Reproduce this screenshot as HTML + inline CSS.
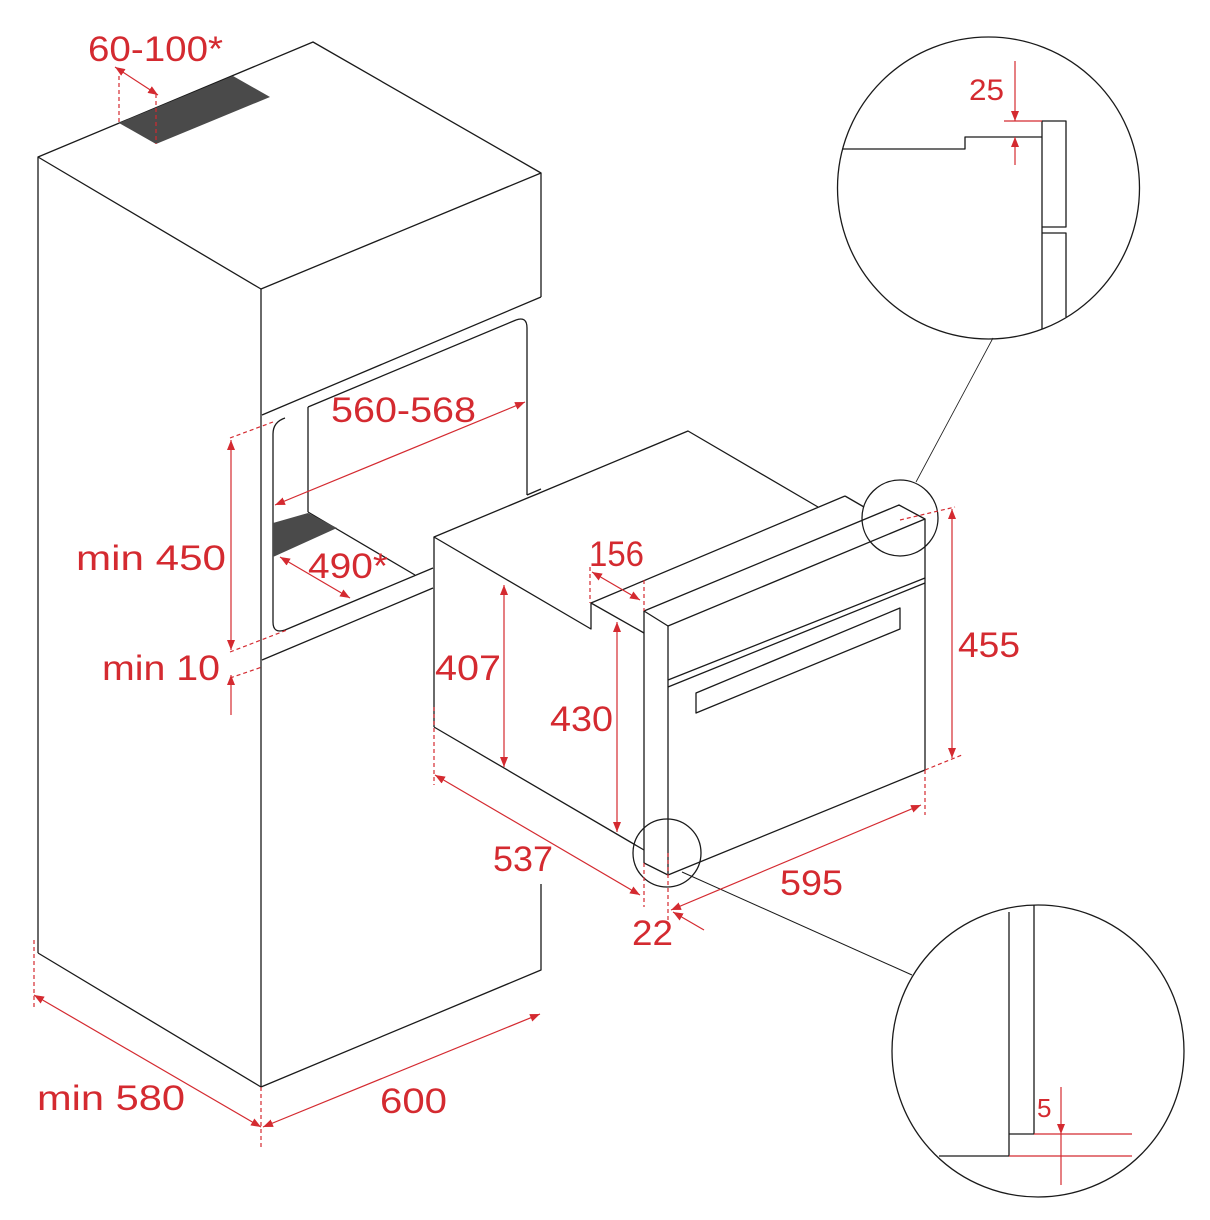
<!DOCTYPE html>
<html><head><meta charset="utf-8"><style>
html,body{margin:0;padding:0;background:#fff}
svg{display:block}
text{font-family:"Liberation Sans",sans-serif;fill:#d42a30}
</style></head><body>
<svg width="1210" height="1220" viewBox="0 0 1210 1220" xmlns="http://www.w3.org/2000/svg">
<defs>
<marker id="a" viewBox="0 0 10 10" refX="10" refY="5" markerWidth="10" markerHeight="10" markerUnits="userSpaceOnUse" orient="auto-start-reverse"><path d="M0,1 L10,5 L0,9 z" fill="#d42a30"/></marker>
</defs>
<g fill="none" stroke="#1a1a1a" stroke-width="1.3" stroke-linejoin="round">
<!-- cabinet -->
<polyline points="38,953 38,157 313,42 541,173 541,297"/>
<line x1="38" y1="157" x2="261" y2="289"/>
<line x1="261" y1="289" x2="541" y2="173"/>
<line x1="261" y1="289" x2="261" y2="1087"/>
<polyline points="38,953 261,1087 541,970 541,884"/>
<line x1="262" y1="415" x2="541" y2="297"/>
<line x1="308" y1="407" x2="516" y2="320"/>
<path d="M516,320 Q527,316 527,328 L527,495"/>
<line x1="308" y1="407" x2="308" y2="512"/>
<path d="M285,418 Q273,422 273,434 L273,622 Q273,634 285,630 L433,568"/>
<line x1="308" y1="512" x2="415" y2="575"/>
<line x1="262" y1="660" x2="433" y2="588"/>
<line x1="527" y1="495" x2="541" y2="489"/>
<!-- oven -->
<polyline points="644,633 591,603 591,629 434,537 688,431 818,507"/>
<line x1="434" y1="537" x2="434" y2="727"/>
<line x1="434" y1="727" x2="644" y2="850"/>
<line x1="591" y1="603" x2="845" y2="496"/>
<line x1="845" y1="496" x2="864" y2="507"/>
<polygon points="644,611 899,505 925,519 668,626"/>
<line x1="644" y1="611" x2="644" y2="863"/>
<polyline points="668,626 668,875 925,770 925,519"/>
<line x1="644" y1="863" x2="668" y2="875"/>
<line x1="668" y1="680" x2="925" y2="578"/>
<line x1="668" y1="687" x2="925" y2="583"/>
<polygon points="696,693 900,608 900,629 696,713"/>
<circle cx="900" cy="518" r="38"/>
<circle cx="667" cy="853" r="34"/>
<line x1="916" y1="482" x2="993" y2="338" stroke-width="0.8"/>
<line x1="682" y1="872" x2="912" y2="975" stroke-width="1"/>
<!-- detail circles -->
<circle cx="988.5" cy="188" r="151"/>
<polyline points="842,149 965,149 965,137 1042,137"/>
<polyline points="1042,329 1042,121 1066,121 1066,227 1042,227"/>
<polyline points="1042,233 1066,233 1066,317"/>
<circle cx="1038" cy="1051" r="146"/>
<polyline points="1009,912 1009,1156 939,1156"/>
<polyline points="1034,905 1034,1134 1009,1134"/>
</g>
<!-- dark fills -->
<polygon points="119,123 233,76 270,97 156,144" fill="#4a4a4a"/>
<polygon points="273,523 308,513 337,528 273,557" fill="#4a4a4a"/>
<g fill="none" stroke="#d42a30" stroke-width="1.2">
<g stroke-dasharray="4,3">
<line x1="119" y1="76" x2="119" y2="123"/><line x1="156" y1="94" x2="156" y2="144"/>
<line x1="230" y1="438" x2="273" y2="422"/>
<line x1="230" y1="652" x2="287" y2="630"/>
<line x1="230" y1="678" x2="262" y2="667"/>
<line x1="34" y1="940" x2="34" y2="1010"/>
<line x1="261" y1="1087" x2="261" y2="1147"/>
<line x1="590" y1="567" x2="590" y2="603"/>
<line x1="644" y1="580" x2="644" y2="611"/>
<line x1="434" y1="707" x2="434" y2="785"/>
<line x1="644" y1="863" x2="644" y2="907"/>
<line x1="668" y1="853" x2="668" y2="923"/>
<line x1="925" y1="770" x2="925" y2="815"/>
<line x1="900" y1="520" x2="955" y2="507"/>
<line x1="925" y1="770" x2="962" y2="755"/>
</g>
<line x1="115" y1="67" x2="158" y2="95" marker-start="url(#a)" marker-end="url(#a)"/>
<line x1="275" y1="505" x2="525" y2="402" marker-start="url(#a)" marker-end="url(#a)"/>
<line x1="280" y1="557" x2="350" y2="598" marker-start="url(#a)" marker-end="url(#a)"/>
<line x1="231" y1="440" x2="231" y2="650" marker-start="url(#a)" marker-end="url(#a)"/>
<line x1="231" y1="715" x2="231" y2="675" marker-end="url(#a)"/>
<line x1="34" y1="995" x2="261" y2="1127" marker-start="url(#a)" marker-end="url(#a)"/>
<line x1="263" y1="1127" x2="540" y2="1014" marker-start="url(#a)" marker-end="url(#a)"/>
<line x1="504" y1="585" x2="504" y2="767" marker-start="url(#a)" marker-end="url(#a)"/>
<line x1="617" y1="622" x2="617" y2="832" marker-start="url(#a)" marker-end="url(#a)"/>
<line x1="592" y1="572" x2="640" y2="600" marker-start="url(#a)" marker-end="url(#a)"/>
<line x1="435" y1="775" x2="640" y2="895" marker-start="url(#a)" marker-end="url(#a)"/>
<line x1="671" y1="910" x2="921" y2="805" marker-start="url(#a)" marker-end="url(#a)"/>
<line x1="704" y1="930" x2="673" y2="912" marker-end="url(#a)"/>
<line x1="952" y1="509" x2="952" y2="758" marker-start="url(#a)" marker-end="url(#a)"/>
<line x1="1004" y1="121" x2="1042" y2="121"/>
<line x1="1015" y1="61" x2="1015" y2="121" marker-end="url(#a)"/>
<line x1="1015" y1="165" x2="1015" y2="137" marker-end="url(#a)"/>
<line x1="1034" y1="1134" x2="1132" y2="1134"/>
<line x1="1009" y1="1156" x2="1132" y2="1156"/>
<line x1="1061" y1="1087" x2="1061" y2="1134" marker-end="url(#a)"/>
<line x1="1061" y1="1134" x2="1061" y2="1185"/>
</g>
<g font-size="35">
<text x="88" y="61" textLength="135" lengthAdjust="spacingAndGlyphs">60-100*</text>
<text x="331" y="422" textLength="145" lengthAdjust="spacingAndGlyphs">560-568</text>
<text x="308" y="578" textLength="80" lengthAdjust="spacingAndGlyphs">490*</text>
<text x="76" y="570" textLength="150" lengthAdjust="spacingAndGlyphs">min 450</text>
<text x="102" y="680" textLength="118" lengthAdjust="spacingAndGlyphs">min 10</text>
<text x="37" y="1110" textLength="148" lengthAdjust="spacingAndGlyphs">min 580</text>
<text x="380" y="1113" textLength="67" lengthAdjust="spacingAndGlyphs">600</text>
<text x="435" y="680" textLength="66" lengthAdjust="spacingAndGlyphs">407</text>
<text x="550" y="731" textLength="63" lengthAdjust="spacingAndGlyphs">430</text>
<text x="589" y="566" textLength="55" lengthAdjust="spacingAndGlyphs">156</text>
<text x="493" y="871" textLength="60" lengthAdjust="spacingAndGlyphs">537</text>
<text x="780" y="895" textLength="63" lengthAdjust="spacingAndGlyphs">595</text>
<text x="632" y="945" textLength="41" lengthAdjust="spacingAndGlyphs">22</text>
<text x="958" y="657" textLength="62" lengthAdjust="spacingAndGlyphs">455</text>
</g>
<text x="969" y="100" font-size="30" textLength="35" lengthAdjust="spacingAndGlyphs">25</text>
<text x="1037" y="1117" font-size="26">5</text>
</svg>
</body></html>
